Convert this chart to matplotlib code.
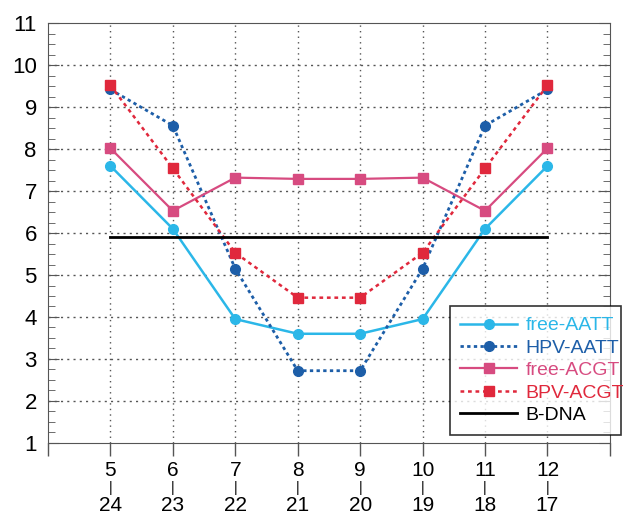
import matplotlib.pyplot as plt
from matplotlib.ticker import MultipleLocator

plt.rcParams['font.family'] = ['Liberation Sans', 'DejaVu Sans']

# Daten
pos_top = [5, 6, 7, 8, 9, 10, 11, 12]
pos_bottom = [24, 23, 22, 21, 20, 19, 18, 17]
free_aatt = [7.6, 6.1, 3.95, 3.6, 3.6, 3.95, 6.1, 7.6]
hpv_aatt = [9.42, 8.56, 5.15, 2.72, 2.72, 5.15, 8.56, 9.42]
free_acgt = [8.02, 6.53, 7.32, 7.29, 7.29, 7.32, 6.53, 8.02]
bpv_acgt = [9.52, 7.54, 5.53, 4.46, 4.46, 5.53, 7.54, 9.52]
b_dna = [5.91] * len(pos_top)

fig = plt.figure(figsize=(6.23, 5.15), dpi=100)
ax = fig.add_axes([0.077, 0.140, 0.902, 0.815])

c_light = "#2bb7e8"
c_dark = "#1d5ea8"
c_pink = "#d74b80"
c_red = "#e0283c"

ax.plot(pos_top, free_aatt, "-", color=c_light, marker="o", ms=7, lw=1.8, label="free-AATT")
ax.plot(pos_top, hpv_aatt, color=c_dark, ls=(0, (1.2, 1.2)), marker="o", ms=7, lw=2, label="HPV-AATT")
ax.plot(pos_top, free_acgt, "-", color=c_pink, marker="s", ms=7, lw=1.6, label="free-ACGT")
ax.plot(pos_top, bpv_acgt, color=c_red, ls=(0, (1.5, 1.5)), marker="s", ms=7, lw=1.8, label="BPV-ACGT")
ax.plot(pos_top, b_dna, "-", color="black", lw=2, label="B-DNA")

ax.set_xlim(4, 13)
ax.set_ylim(1, 11)

# Achsen / Ticks
ax.set_xticks(range(4, 14))
ax.set_xticklabels([])
ax.tick_params(axis="x", direction="out", length=9, width=1, color="#555555")
# Beschriftung in zwei Zeilen (Strang 1 / Strang 2)
trans = ax.get_xaxis_transform()
for a, b in zip(pos_top, pos_bottom):
    ax.text(a, -0.066, str(a), transform=trans, ha="center", va="center", fontsize=15)
    ax.text(a, -0.108, "|", transform=trans, ha="center", va="center", fontsize=10)
    ax.text(a, -0.150, str(b), transform=trans, ha="center", va="center", fontsize=15)

ax.set_yticks(range(1, 12))
ax.yaxis.set_minor_locator(MultipleLocator(0.25))
ax.tick_params(axis="y", which="both", direction="in", right=True, color="#555555", labelsize=16)
ax.tick_params(axis="y", which="major", length=8, pad=8)
ax.tick_params(axis="y", which="minor", length=5)

for x in pos_top:
    ax.axvline(x, color="#555555", ls=(0, (1, 3)), lw=1, zorder=0)
for y in range(2, 11):
    ax.axhline(y, color="#555555", ls=(0, (1.5, 3)), lw=1, zorder=0)

for s in ax.spines.values():
    s.set_color("#555555")

leg = ax.legend(loc="lower left", bbox_to_anchor=(0.715, 0.019, 0.305, 0.305), mode="expand",
                fontsize=14, handlelength=2.9, frameon=True, fancybox=False,
                edgecolor="black", borderaxespad=0, labelspacing=0.25, handletextpad=0.45,
                borderpad=0.55)
leg.get_frame().set_linewidth(1.2)
for txt, line in zip(leg.get_texts(), leg.get_lines()):
    txt.set_color(line.get_color())

fig.savefig("out.png", dpi=100)
